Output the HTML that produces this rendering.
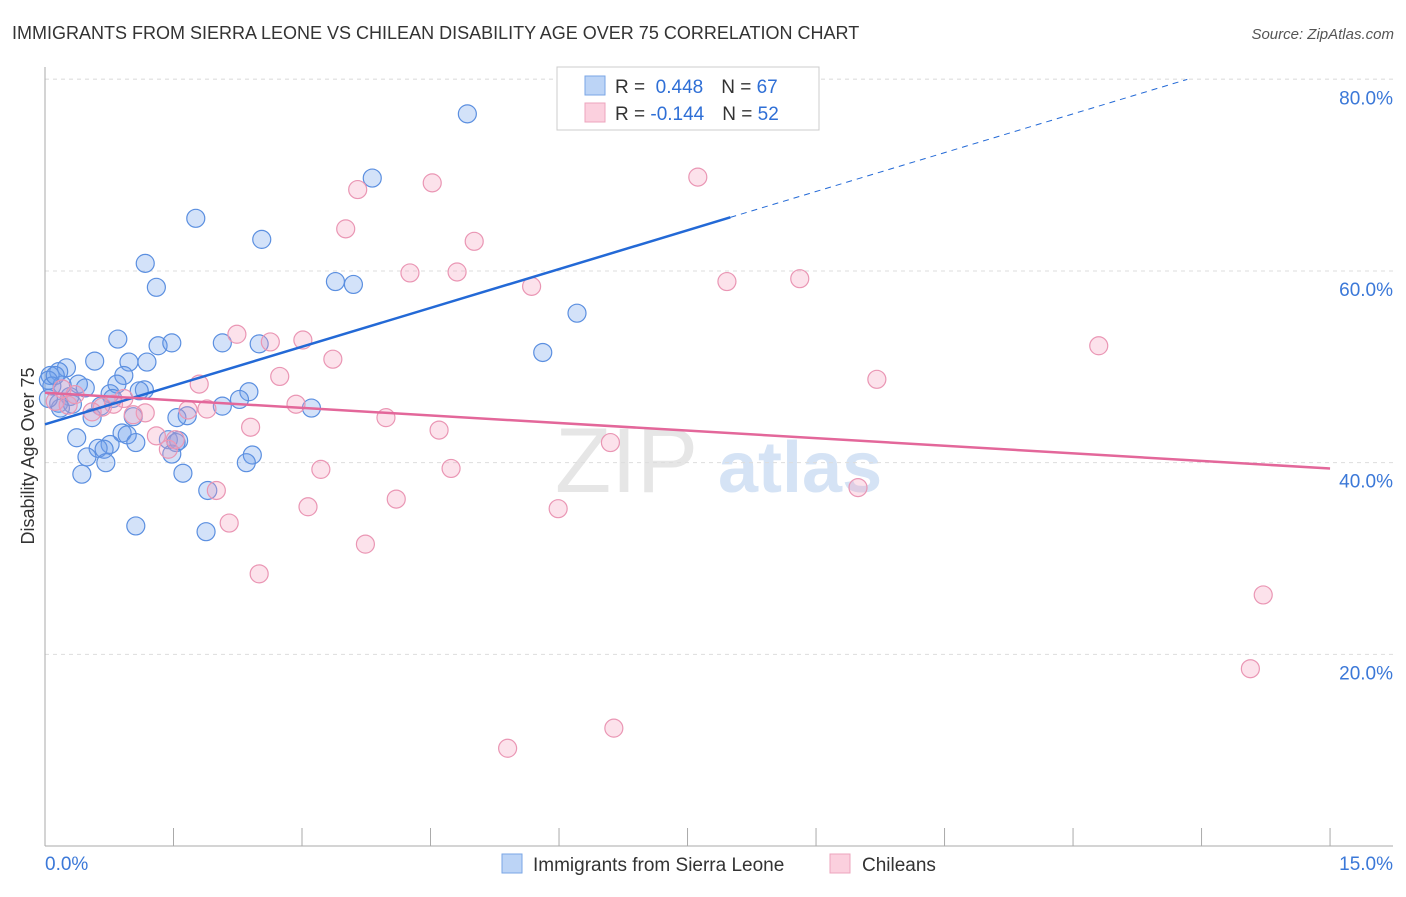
<!DOCTYPE html>
<html><head><meta charset="utf-8"><style>
body{margin:0;background:#fff;font-family:"Liberation Sans",sans-serif;}
svg text{font-family:"Liberation Sans",sans-serif;}
</style></head><body>
<svg id="chart" width="1406" height="892">
<text x="12" y="39" font-size="18" fill="#333">IMMIGRANTS FROM SIERRA LEONE VS CHILEAN DISABILITY AGE OVER 75 CORRELATION CHART</text>
<text x="1394" y="39" font-size="15" fill="#555" text-anchor="end" font-style="italic">Source: ZipAtlas.com</text>
<g><text x="555" y="492" font-size="92" fill="#e6e6e6" font-family="Liberation Serif">ZIP</text><text x="718" y="492" font-size="72" fill="#d5e3f5" font-weight="bold">atlas</text></g>
<g id="grid"></g><g id="axes"></g>
<text transform="translate(34,456) rotate(-90)" font-size="18" fill="#333" text-anchor="middle">Disability Age Over 75</text>
<g id="pts"></g><g id="lines"></g>
<g>
<rect x="557" y="67" width="262" height="63" fill="#fff" stroke="#ccc"/>
<rect x="585" y="76" width="20" height="19" fill="#bcd4f6" stroke="#7aa6e6"/>
<rect x="585" y="103" width="20" height="19" fill="#fbd0de" stroke="#eda4bd"/>
<text x="615" y="93" font-size="19" fill="#333">R = <tspan fill="#2f6fd6">&#160;0.448</tspan><tspan dx="18">N = </tspan><tspan fill="#2f6fd6">67</tspan></text>
<text x="615" y="120" font-size="19" fill="#333">R = <tspan fill="#2f6fd6">-0.144</tspan><tspan dx="18">N = </tspan><tspan fill="#2f6fd6">52</tspan></text>
</g>
<g>
<rect x="502" y="854" width="20" height="19" fill="#bcd4f6" stroke="#7aa6e6"/>
<text x="533" y="871" font-size="19" fill="#333">Immigrants from Sierra Leone</text>
<rect x="830" y="854" width="20" height="19" fill="#fbd0de" stroke="#eda4bd"/>
<text x="862" y="871" font-size="19" fill="#333">Chileans</text>
</g>
</svg>
<script>
const blueX=[4.93,3.82,1.76,2.53,1.17,1.30,3.39,3.60,6.21,5.81,0.85,1.32,1.48,2.07,2.50,0.58,0.98,1.19,0.25,0.16,0.92,0.06,0.84,0.39,0.47,0.20,1.16,1.10,0.76,2.38,0.29,0.79,2.27,0.16,0.32,0.65,2.07,0.18,3.11,0.55,1.66,1.54,1.03,0.90,0.96,0.37,1.44,1.56,1.53,1.06,0.76,0.62,0.69,1.48,2.42,0.49,2.35,0.71,1.61,0.43,1.90,1.06,1.88,0.04,0.08,0.04,0.12];
const blueY=[76.4,69.7,65.5,63.3,60.8,58.3,58.9,58.6,55.6,51.5,52.9,52.2,52.5,52.5,52.4,50.6,50.5,50.5,49.9,49.5,49.1,49.1,48.2,48.2,47.8,48.1,47.6,47.5,47.2,47.4,46.9,46.7,46.6,46.2,46.1,45.9,45.9,45.7,45.7,44.7,44.9,44.7,44.8,43.1,42.9,42.6,42.4,42.3,42.1,42.1,41.9,41.5,41.4,40.9,40.8,40.6,40.0,40.0,38.9,38.8,37.1,33.4,32.8,48.6,48.0,46.7,49.1];
const pinkX=[7.62,4.52,3.65,3.51,5.01,4.26,4.81,5.68,7.96,8.81,12.30,2.24,2.63,3.01,3.36,2.74,9.71,1.80,0.20,0.92,0.12,2.93,0.27,0.80,1.89,1.67,0.67,1.17,1.03,3.98,2.40,4.60,1.30,1.44,6.60,3.22,4.74,2.00,9.49,4.10,3.07,5.99,2.15,3.74,2.50,14.22,14.07,6.64,5.40,0.55,0.35,1.52];
const pinkY=[69.8,69.2,68.5,64.4,63.1,59.8,59.9,58.4,58.9,59.2,52.2,53.4,52.6,52.8,50.8,49.0,48.7,48.2,47.7,46.7,46.4,46.1,46.0,46.1,45.6,45.5,45.8,45.2,45.0,44.7,43.7,43.4,42.8,41.4,42.1,39.3,39.4,37.1,37.4,36.2,35.4,35.2,33.7,31.5,28.4,26.2,18.5,12.3,10.2,45.3,47.1,42.4];
const blueTrend=[44.0,2.7];
const pinkTrend=[47.3,-0.527];
const yTicks=[20,40,60,80];
const yTickLabels=["20.0%","40.0%","60.0%","80.0%"];
const xTicks=[0,1.5,3,4.5,6,7.5,9,10.5,12,13.5,15];

const NS="http://www.w3.org/2000/svg";
const sx=v=>45+v*85.67, sy=v=>846-v*9.583;
function mk(t,a,p){const e=document.createElementNS(NS,t);for(const k in a)e.setAttribute(k,a[k]);document.getElementById(p).appendChild(e);return e;}
yTicks.forEach((t,i)=>{
 const l=mk('line',{x1:45,x2:1393,y1:sy(t),y2:sy(t),stroke:'#ddd','stroke-dasharray':'4,4'},'grid');
 
 
 const tx=mk('text',{x:1393,y:sy(t)+25,'font-size':19,fill:'#3b78d8','text-anchor':'end'},'grid');
 tx.textContent=yTickLabels[i];
 
 
});
const tg=mk('line',{x1:45,x2:1393,y1:79,y2:79,stroke:'#e6e6e6','stroke-dasharray':'4,4'},'grid');


const ax=mk('line',{x1:45,x2:1393,y1:846,y2:846,stroke:'#aaa'},'axes');


const ay=mk('line',{x1:45,x2:45,y1:67,y2:846,stroke:'#aaa'},'axes');


xTicks.forEach(t=>{
 const l=mk('line',{x1:sx(t),x2:sx(t),y1:828,y2:846,stroke:'#aaa'},'axes');
 
 
});
const x0=mk('text',{x:45,y:870,'font-size':19,fill:'#3b78d8'},'axes');x0.textContent='0.0%';


const x1=mk('text',{x:1393,y:870,'font-size':19,fill:'#3b78d8','text-anchor':'end'},'axes');x1.textContent='15.0%';


blueX.forEach((v,i)=>{
 const c=mk('circle',{cx:sx(v),cy:sy(blueY[i]),r:9,fill:'rgba(110,160,235,0.3)',stroke:'#5b8fe0','stroke-width':1.2},'pts');
 
 
});
pinkX.forEach((v,i)=>{
 const c=mk('circle',{cx:sx(v),cy:sy(pinkY[i]),r:9,fill:'rgba(245,160,190,0.3)',stroke:'#ea96b4','stroke-width':1.2},'pts');
 
 
});
const bl=mk('line',{x1:sx(0),y1:sy(blueTrend[0]),x2:sx(8),y2:sy(blueTrend[0]+8*blueTrend[1]),stroke:'#2369d6','stroke-width':2.5},'lines');


const xe=(80-blueTrend[0])/blueTrend[1];
const bd=mk('line',{x1:sx(8),y1:sy(blueTrend[0]+8*blueTrend[1]),x2:sx(xe),y2:sy(80),stroke:'#2369d6','stroke-width':1,'stroke-dasharray':'6,5'},'lines');


const pl=mk('line',{x1:sx(0),y1:sy(pinkTrend[0]),x2:sx(15),y2:sy(pinkTrend[0]+15*pinkTrend[1]),stroke:'#e3679a','stroke-width':2.5},'lines');


</script>
</body></html>
